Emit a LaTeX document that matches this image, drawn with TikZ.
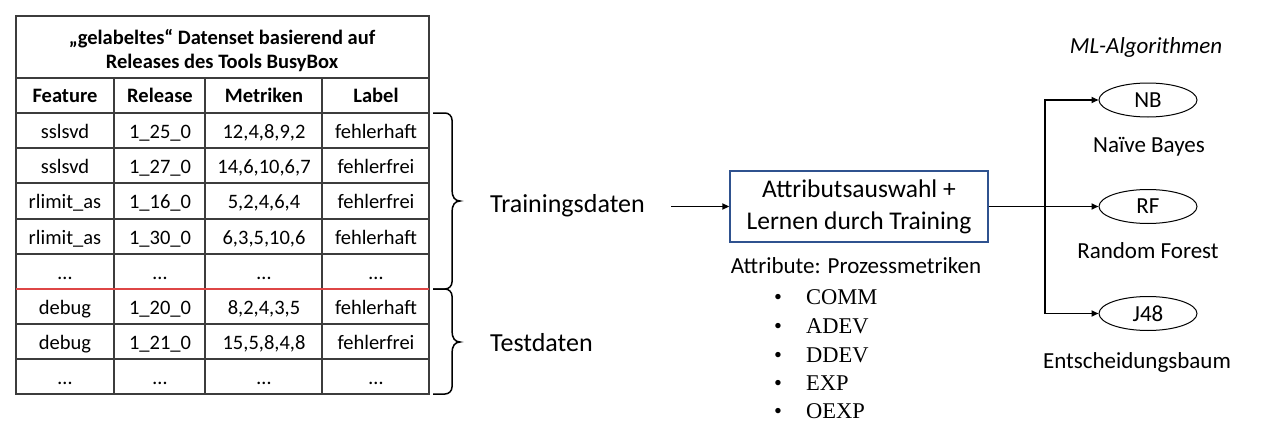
\documentclass[tikz,border=0pt]{standalone}
\usepackage{fontspec}
\setmainfont{Carlito}
\newfontfamily\serifitem{Liberation Serif}
\usetikzlibrary{arrows.meta,shapes.geometric}
\definecolor{boxblue}{RGB}{47,82,143}
\definecolor{splitred}{RGB}{222,70,70}
\definecolor{gridgray}{RGB}{60,60,60}
\newcommand\tabrow[6]{%
  \node[cell] (r#1a) at (65,#2) {#3};
  \node[cell] (r#1b) at (160,#2) {#4};
  \node[cell] (r#1c) at (264,#2) {#5};
  \node[cell] (r#1d) at (376,#2) {#6};}
\begin{document}
\begin{tikzpicture}[x=1pt,y=-1pt,
  cell/.style={anchor=base, inner sep=0pt, font=\fontsize{20.5}{24}\selectfont},
  hcell/.style={cell, font=\fontsize{20.5}{24}\selectfont\bfseries},
  gridline/.style={line width=1.2pt, draw=gridgray},
  bracestyle/.style={line width=1.5pt, draw=black},
  bigtext/.style={anchor=base west, inner sep=0pt, font=\fontsize{26}{30}\selectfont},
  label/.style={anchor=base, inner sep=0pt, font=\fontsize{23}{27}\selectfont},
  algo/.style={ellipse, draw=black, line width=1pt, minimum width=98pt, minimum height=34pt, inner sep=0pt, font=\fontsize{23}{27}\selectfont},
  conn/.style={line width=1.6pt, draw=black},
  arr/.style={conn, -{Triangle[length=7pt,width=6pt]}},
  item/.style={anchor=base west, inner sep=0pt, font=\serifitem\fontsize{22.5}{26}\selectfont},
  bul/.style={anchor=base, inner sep=0pt, font=\serifitem\fontsize{22.5}{26}\selectfont}
]
\useasboundingbox (0,0) rectangle (1262,439);
\fill[white] (0,0) rectangle (1262,439);

% ---- table grid
\draw[gridline] (16,16) rectangle (429,394);
\foreach \yy in {78,113,148,183,219,254,324,359}
  \draw[gridline] (16,\yy) -- (429,\yy);
\foreach \xx in {114,205,322}
  \draw[gridline] (\xx,78) -- (\xx,394);
\draw[line width=1.2pt, draw=splitred] (16,289) -- (429,289);

% ---- table text
\node[hcell] (title1) at (222,44) {„gelabeltes“ Datenset basierend auf};
\node[hcell] (title2) at (222,68) {Releases des Tools BusyBox};
\node[hcell] (h1) at (65,102) {Feature};
\node[hcell] (h2) at (160,102) {Release};
\node[hcell] (h3) at (264,102) {Metriken};
\node[hcell] (h4) at (376,102) {Label};
\tabrow{1}{138}{sslsvd}{1\_25\_0}{12,4,8,9,2}{fehlerhaft}
\tabrow{2}{173}{sslsvd}{1\_27\_0}{14,6,10,6,7}{fehlerfrei}
\tabrow{3}{208}{rlimit\_as}{1\_16\_0}{5,2,4,6,4}{fehlerfrei}
\tabrow{4}{244}{rlimit\_as}{1\_30\_0}{6,3,5,10,6}{fehlerhaft}
\tabrow{5}{279}{…}{…}{…}{…}
\tabrow{6}{314}{debug}{1\_20\_0}{8,2,4,3,5}{fehlerhaft}
\tabrow{7}{349}{debug}{1\_21\_0}{15,5,8,4,8}{fehlerfrei}
\tabrow{8}{384}{…}{…}{…}{…}

% ---- braces
\draw[bracestyle, rounded corners=7pt] (433,113) -| (452,190);
\draw[bracestyle] (452,190) .. controls (452,197) and (455,201) .. (460,201)
  .. controls (455,201) and (452,205) .. (452,212);
\draw[bracestyle, rounded corners=7pt] (452,212) |- (433,289);

\draw[bracestyle, rounded corners=7pt] (433,289) -| (452,331);
\draw[bracestyle] (452,331) .. controls (452,338) and (455,342) .. (460,342)
  .. controls (455,342) and (452,346) .. (452,353);
\draw[bracestyle, rounded corners=7pt] (452,353) |- (433,394);

\node[bigtext] (train) at (490,212) {Trainingsdaten};
\node[bigtext] (test) at (490,351) {Testdaten};

% ---- learning box
\node[draw=boxblue, line width=1.3pt, minimum width=258pt, minimum height=71pt,
      align=center, inner sep=0pt, font=\fontsize{25.5}{32}\selectfont] (box) at (859,206.5)
  {Attributsauswahl +\\Lernen durch Training};
\coordinate (a0) at (671,206.5);
\draw[arr] (a0) -- (box.west);

\node[label, font=\fontsize{23}{27}\selectfont] (attr) at (856,273) {Attribute: Prozessmetriken};
\foreach \n/\yy/\t in {1/304/COMM,2/333/ADEV,3/362/DDEV,4/390/EXP,5/418.5/OEXP}{
  \node[bul] (b\n) at (778,\yy) {\textbullet};
  \node[item] (i\n) at (806,\yy) {\t};
}

% ---- algorithms
\node[label, font=\fontsize{23}{27}\selectfont\itshape] (ml) at (1146,53) {ML-Algorithmen};
\node[algo] (nb) at (1148,100) {NB};
\node[algo] (rf) at (1148,206.5) {RF};
\node[algo] (j48) at (1148,313.5) {J48};
\node[label] (nbl) at (1149,152) {Naïve Bayes};
\node[label] (rfl) at (1148,258) {Random Forest};
\node[label] (j48l) at (1137,368) {Entscheidungsbaum};

\coordinate (fk) at (1045,206.5);
\draw[conn] (box.east) -- (fk);
\draw[arr] (fk) |- (nb.west);
\draw[arr] (fk) -- (rf.west);
\draw[arr] (fk) |- (j48.west);
\end{tikzpicture}
\end{document}
